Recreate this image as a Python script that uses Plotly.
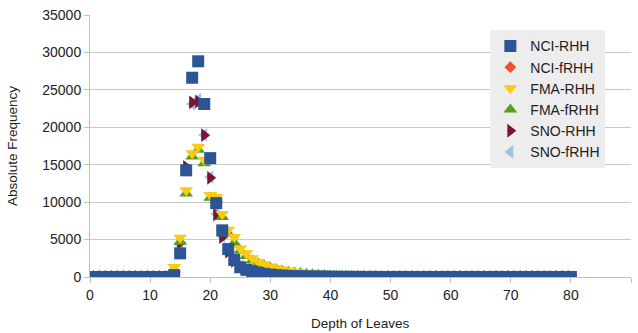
import plotly.graph_objects as go

depth = list(range(1, 81))

def pad(head, first_depth, total=80):
    # zeros for depths before `first_depth`, the given values, then zeros to the end
    vals = [0] * (first_depth - 1) + head
    return vals + [0] * (total - len(vals))

nci_rhh = pad([250, 3160, 14250, 26620, 28815, 23110, 15880, 9870, 6230, 3730,
               2280, 1300, 970, 750, 560, 420, 320, 245, 190, 150,
               115, 90, 70, 55, 42, 33, 26, 20, 16, 12,
               9, 7, 6, 5, 4, 3, 3, 2, 2, 1, 1, 1], 14)
nci_frhh = pad([240, 3150, 14230, 26600, 28800, 23100, 15870, 9860, 6220, 3720,
                2270, 1290, 965, 745, 555, 415, 318, 242, 188, 148,
                113, 88, 69, 54, 41, 32, 25, 19, 15, 11,
                9, 7, 6, 5, 4, 3, 2, 2, 1, 1, 1, 1], 14)
fma_rhh = pad([150, 1320, 5260, 11580, 16540, 17410, 15660, 10960, 10700, 8420,
               6320, 5350, 3820, 3160, 2500, 2000, 1700, 1400, 1200, 1000,
               850, 700, 600, 500, 420, 350, 300, 250, 210, 175,
               145, 120, 100, 80, 65, 52, 42, 33, 26, 20, 15, 11, 8, 6, 4, 3, 2, 1, 1], 13)
fma_frhh = pad([100, 1000, 4700, 11140, 16100, 17000, 15200, 10600, 10350, 8000,
               5800, 4560, 3500, 2800, 2250, 1800, 1500, 1250, 1050, 880,
               740, 610, 520, 430, 360, 300, 255, 215, 180, 150,
               125, 100, 85, 68, 55, 44, 35, 28, 22, 17, 13, 9, 7, 5, 3, 2, 2, 1, 1], 13)
sno_rhh = pad([500, 4560, 14700, 23330, 23450, 18950, 13250, 8330, 5350, 3400,
               2150, 1450, 1000, 720, 530, 400, 300, 230, 180, 140,
               110, 85, 65, 50, 40, 30, 24, 18, 14, 11,
               8, 6, 5, 4, 3, 2, 2, 1, 1, 1], 14)
sno_frhh = pad([450, 4300, 14300, 23100, 23700, 18980, 13350, 8450, 5450, 3450,
                2180, 1480, 1020, 740, 540, 410, 305, 235, 182, 142,
                112, 86, 66, 51, 40, 31, 24, 18, 14, 11,
                8, 6, 5, 4, 3, 2, 2, 1, 1, 1], 14)

series = [
    ("NCI-RHH", nci_rhh, "square", "#2B5595", 12),
    ("NCI-fRHH", nci_frhh, "diamond", "#E8532B", 9),
    ("FMA-RHH", fma_rhh, "triangle-down", "#FBCB13", 12),
    ("FMA-fRHH", fma_frhh, "triangle-up", "#55A01E", 12),
    ("SNO-RHH", sno_rhh, "triangle-right", "#7E1230", 12),
    ("SNO-fRHH", sno_frhh, "triangle-left", "#9DC3E6", 12),
]

fig = go.Figure()
# later series are drawn first so the first series sits on top
for name, vals, symbol, color, size in reversed(series):
    fig.add_trace(go.Scatter(
        x=depth, y=vals, mode="markers", name=name,
        marker=dict(symbol=symbol, color=color, size=size, line=dict(width=0)),
    ))

font_family = "Liberation Sans, Arial, sans-serif"
text_color = "#222222"

fig.update_layout(
    width=638, height=333,
    margin=dict(l=90, r=7, t=12, b=56),
    paper_bgcolor="white", plot_bgcolor="white",
    font=dict(family=font_family, size=14, color=text_color),
    showlegend=True,
    legend=dict(
        traceorder="reversed",
        x=0.74, y=0.9415, xanchor="left", yanchor="top",
        bgcolor="#EDEDED", borderwidth=0,
        font=dict(size=14, color=text_color),
        itemwidth=30, tracegroupgap=0,
    ),
    xaxis=dict(
        range=[0, 90], tick0=0, dtick=10, showgrid=False, zeroline=False,
        showline=True, linecolor="#BFBFBF", linewidth=1,
        ticks="outside", ticklen=5, tickcolor="#BFBFBF",
        tickfont=dict(size=14, color=text_color),
    ),
    yaxis=dict(
        range=[0, 35000], tick0=0, dtick=5000, tickformat="d",
        showgrid=True, gridcolor="#C8C8C8",
        zeroline=False, showline=True, linecolor="#BFBFBF", linewidth=1,
        ticks="outside", ticklen=5, tickcolor="#BFBFBF",
        tickfont=dict(size=14, color=text_color),
    ),
    annotations=[
        dict(text="Depth of Leaves", xref="paper", yref="paper", x=0.5, y=-0.177,
             xanchor="center", yanchor="middle", showarrow=False,
             font=dict(size=13.5, color=text_color)),
        dict(text="Absolute Frequency", xref="paper", yref="paper", x=-0.144, y=0.5,
             xanchor="center", yanchor="middle", textangle=-90, showarrow=False,
             font=dict(size=13.5, color=text_color)),
    ],
)

fig.write_html("out.html")
